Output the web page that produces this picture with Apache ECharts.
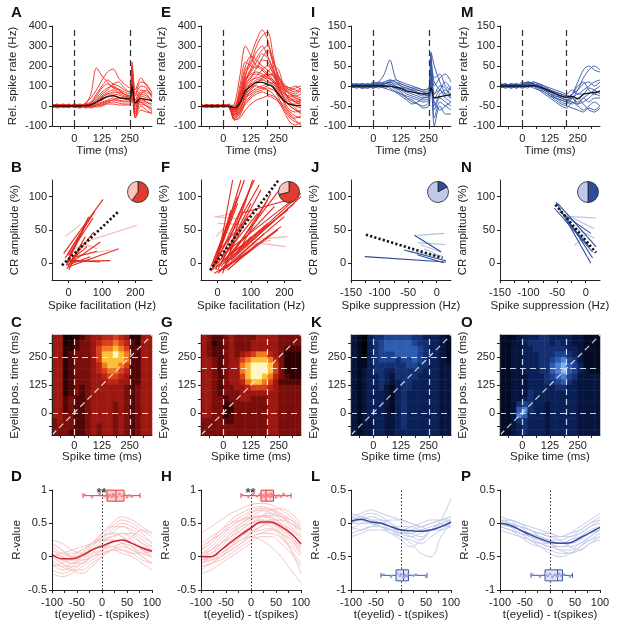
<!DOCTYPE html>
<html>
<head>
<meta charset="UTF-8">
<title>Spike rate, CR amplitude and eyelid correlation</title>
<script src="https://cdn.jsdelivr.net/npm/echarts@6/dist/echarts.min.js"></script>
<style>html,body{margin:0;padding:0;background:#fff;}</style>
</head>
<body>
<div id="main" style="width:617px;height:626px;"></div>
<script type="text/javascript">
// ---------- row 1: spike rate traces (A, E, I, M) ----------
var timeA = [-100,-75,-50,-25,0,25,50,75,100,125,150,175,200,225,250,260,275,300,325,350];
var timeE = [-100,-75,-50,-25,0,25,50,75,100,125,150,175,200,225,250,275,300,325,350];

var rateAMean = [0,0,0,0,0,0,2,6,20,35,48,52,42,38,35,100,15,38,32,28];
var rateATraces = [
  [5,-5,8,0,-3,5,10,60,190,150,120,90,80,60,40,150,20,60,50,30],
  [-5,5,0,-8,5,0,15,40,80,130,170,185,140,110,90,200,60,120,110,60],
  [10,0,-5,5,0,-5,10,20,60,100,130,110,100,80,70,180,50,100,90,40],
  [0,8,-3,-5,10,5,0,15,40,70,90,100,80,60,50,160,0,70,60,20],
  [-8,0,5,0,-5,-10,5,10,30,50,70,80,70,60,50,120,-20,50,40,20],
  [5,-10,0,8,0,5,0,5,20,40,60,60,55,45,40,90,-60,30,20,10],
  [0,5,-5,0,3,0,-5,0,15,30,45,50,45,35,30,130,-40,40,20,0],
  [-3,0,10,-5,0,10,0,-5,10,20,30,40,30,25,25,80,10,20,10,-20],
  [8,-5,0,5,-8,0,5,0,5,15,25,30,25,20,20,60,-30,10,0,-30],
  [0,10,-8,0,5,-5,0,-10,0,5,15,20,15,10,10,40,-50,0,-20,-40],
  [-10,0,5,-5,0,5,-10,0,-5,0,10,10,5,5,5,70,30,20,0,-10],
  [5,0,-5,10,-5,0,5,10,30,60,80,110,120,90,70,220,80,140,100,70],
  [0,-5,5,0,8,-8,0,5,20,45,60,70,65,50,45,110,-10,60,80,50],
  [-5,5,0,-3,0,3,-5,-5,5,10,20,30,40,35,30,100,-60,-20,-30,-35],
  [3,-3,5,-5,0,0,5,15,50,90,110,95,85,70,60,140,30,80,70,55]
];

var rateEMean = [0,0,0,0,0,-2,-8,15,75,100,118,118,108,95,55,25,8,3,2];
var rateETraces = [
  [5,-5,0,5,0,5,-10,40,150,250,330,380,330,200,100,60,40,20,10],
  [0,5,-5,0,5,0,10,150,300,250,200,180,150,120,80,50,30,20,0],
  [-5,0,5,-5,0,-5,0,60,180,220,300,350,370,250,120,80,60,40,30],
  [5,0,-5,5,-5,10,-20,80,200,250,230,200,180,150,100,80,60,50,40],
  [0,-5,5,0,0,0,-40,20,120,180,220,260,240,180,120,100,90,80,70],
  [-5,5,0,-5,5,-5,-60,-20,60,120,150,180,200,170,140,110,90,100,80],
  [5,0,-5,0,0,5,-70,-50,30,80,110,140,160,150,100,60,40,20,30],
  [0,5,0,5,-5,0,-30,30,100,150,160,150,130,100,60,20,-20,-30,-20],
  [-5,0,5,0,5,-5,-50,0,80,100,120,130,120,110,70,10,-40,-60,-50],
  [5,-5,0,5,0,0,-20,10,50,70,90,100,110,90,40,-20,-60,-80,-90],
  [0,0,-5,-5,5,5,-10,20,60,90,100,90,80,60,20,-30,-80,-95,-80],
  [-5,5,5,0,-5,0,-40,-30,20,50,70,80,90,80,60,30,0,-20,-40],
  [0,-5,0,5,0,-5,-60,-40,10,40,60,70,60,50,30,0,-30,-50,-60],
  [5,0,5,-5,0,5,-20,40,120,170,200,190,160,130,90,60,50,40,30],
  [0,5,-5,0,5,0,-10,60,140,160,170,160,140,120,80,40,20,0,-10],
  [-5,-5,0,5,-5,5,-50,-10,40,60,80,90,100,120,110,90,70,60,80],
  [5,0,0,-5,0,0,-30,10,90,130,140,150,170,200,180,80,20,-10,-40],
  [0,5,-5,5,0,-5,-70,-60,-20,10,30,40,50,40,20,-10,-50,-70,-100],
  [0,-5,5,0,0,5,0,100,220,200,190,240,280,220,150,100,80,90,100],
  [5,0,-5,0,5,0,-30,50,160,210,270,300,250,180,90,30,0,-20,-30],
  [0,0,5,-5,0,0,-45,15,110,140,190,230,220,160,110,70,40,30,20],
  [-5,5,0,0,5,-5,-25,35,130,190,240,280,300,230,140,90,60,50,60],
  [5,-5,0,5,-5,0,-65,-30,50,90,120,130,140,130,90,40,10,10,20],
  [0,0,-5,0,0,5,-15,25,90,110,130,140,150,160,130,100,80,70,90]
];

var rateIMean = [0,0,0,0,0,0,0,-1,-3,-6,-12,-15,-18,-20,-18,-5,-30,-27,-24,-22];
var rateITraces = [
  [5,0,-5,5,0,10,30,65,20,5,0,-5,-10,-15,-20,80,-20,-10,-30,-40],
  [0,5,5,-5,5,0,5,10,0,-10,-20,-25,-30,-35,-30,85,50,10,-20,-30],
  [-5,0,5,0,10,5,0,5,-5,-15,-30,-40,-45,-50,-40,40,-60,-30,-40,-50],
  [5,-5,0,5,0,0,10,15,10,0,-5,-10,-15,-20,-25,30,-100,-50,-70,-70],
  [0,5,-5,0,5,5,0,0,-10,-20,-25,-30,-35,-40,-35,20,-80,-40,-50,-60],
  [10,0,5,0,-5,0,5,10,5,0,-10,-10,-20,-25,-20,60,20,30,0,-10],
  [-5,5,0,5,0,-5,0,-5,-15,-25,-35,-45,-40,-30,-25,10,-30,-10,10,-10],
  [5,0,-5,-5,5,10,5,10,15,10,5,0,-5,-10,-5,50,0,20,30,10],
  [0,-5,5,0,-5,0,-5,0,-5,-10,-15,-20,-25,-30,-25,70,-50,-20,-10,-20],
  [5,5,0,-5,0,5,10,5,0,-5,-5,-10,-10,-15,-10,40,10,-10,-20,0],
  [-5,0,5,5,5,0,-5,-10,-15,-20,-30,-35,-45,-55,-50,0,-40,-60,-50,-40],
  [0,5,-5,0,-5,5,5,15,10,5,0,-5,-5,-10,-5,20,-20,0,-5,-30]
];

var rateMMean = [0,0,0,0,0,0,1,-2,-7,-13,-19,-25,-28,-26,-32,-21,-18,-16,-14];
var rateMTraces = [
  [5,0,-5,5,0,10,5,0,-10,-20,-30,-40,-45,-30,-10,20,40,50,40],
  [0,5,0,-5,5,0,10,5,-5,-15,-20,-30,-35,-20,10,40,50,40,35],
  [-5,0,5,0,10,5,0,-10,-20,-30,-40,-50,-55,-40,-50,-60,-50,-40,-50],
  [5,5,-5,0,0,10,5,0,-5,-20,-30,-35,-40,-30,-40,-30,-20,-10,0],
  [0,-5,5,5,-5,0,0,-5,-15,-25,-35,-45,-50,-55,-60,-65,-55,-60,-50],
  [5,0,0,-5,5,5,10,5,0,-5,-10,-15,-20,-10,-20,-10,0,10,15],
  [-5,5,0,0,0,-5,5,0,-10,-15,-25,-30,-35,-40,-45,-30,-40,-30,-30],
  [0,0,5,-5,5,5,0,5,0,-10,-15,-20,-25,-20,0,10,-10,-20,-10],
  [5,-5,0,5,0,0,-5,-10,-15,-25,-30,-35,-40,-45,-30,-45,-60,-65,-55],
  [0,5,-5,0,5,10,5,0,-5,-10,-20,-25,-30,-20,-10,5,10,0,10],
  [-5,0,5,0,-5,0,0,-5,-10,-20,-25,-30,-35,-30,-45,-40,-30,-20,-25],
  [5,0,0,5,0,5,5,0,-5,-10,-15,-20,-25,-30,-20,-20,-5,-10,-20]
];

// ---------- row 2: CR amplitude vs spike modulation, segments [x1, y1, x2, y2] ----------
var facBDark = [
  [-15,15,103,96],[-10,8,78,78],[-5,2,60,70],[0,12,73,68],[-5,-8,50,40],[-7,-3,55,62],
  [5,2,75,47],[-5,-3,95,32],[0,-5,150,22],[5,3,125,4],[-5,5,95,2],[-5,0,55,25],
  [0,-10,40,30],[-5,12,35,45],[10,8,85,18],[0,-2,65,10]
];
var facBLight = [[-10,40,35,58],[55,33,205,57],[25,12,125,20],[40,30,85,22],[10,22,65,27]];
var facBFit = [-20,-3,150,78];
var facBPie = [60,40];

var facFDark = [
  [-15,-10,80,125],[-10,-5,110,125],[-20,-12,60,100],[-5,0,70,125],[0,-10,100,90],[-10,-5,40,80],
  [10,0,130,110],[20,-5,150,95],[0,-15,200,70],[-10,-8,150,60],[5,-12,100,40],[20,0,240,100],
  [30,10,210,80],[-5,5,60,90],[15,-10,190,55],[-20,-5,30,60],[0,0,120,75],[40,5,250,100],
  [30,-10,120,30],[50,0,180,50],[-10,-15,90,15],[10,-5,200,120],[60,15,160,105],[25,5,90,70],
  [-15,0,20,45],[35,20,105,125],[0,-5,170,85],[45,10,230,90],[15,-15,50,35],[5,20,110,80],
  [70,75,245,100],[20,15,250,105],[-5,-10,45,125],[10,5,95,110],[25,-8,140,45],[-12,-2,125,118]
];
var facFLight = [
  [-3,70,46,75],[-10,70,100,65],[0,60,80,58],[95,35,209,40],[95,32,205,25],[50,20,160,35],
  [10,50,60,40],[-5,40,40,65],[30,20,95,30]
];
var facFFit = [-23,-10,183,125];
var facFPie = [71,29];

var supJDark = [[-126,10,16,2],[-39,42,8,17],[-57,20,16,4],[-34,13,12,1]];
var supJLight = [[-33,42,13,45],[-33,31,15,28],[-51,18,12,10],[-22,22,10,10],[-28,28,7,17]];
var supJFit = [-124,43,10,8];
var supJPie = [17,83];

var supNDark = [[-52,92,9,0],[-49,90,18,25],[-55,83,12,17],[-46,78,9,45],[-37,73,12,8],[-32,63,6,25]];
var supNLight = [[-26,70,18,68],[-32,72,15,52],[-20,27,3,45],[-29,57,15,38]];
var supNFit = [-53,88,18,16];
var supNPie = [50,50];

// ---------- row 3: spike time x eyelid time correlation maps (0-9), top row = 325..350 ms ----------
var heatBins = [-100,-75,-50,-25,0,25,50,75,100,125,150,175,200,225,250,275,300,325];
var mapC = [
  '440012344556541144','440123345667652144','441123346778762244','441233346889872244',
  '441233346888872244','441233345788762244','441233345677652244','441233344566542244',
  '441233344455442244','441232344444432344','441232344444432344','442322344444432344',
  '442322344443432344','442322344443432344','443322344443432344','343322344443432344',
  '333322343443432344','333222343443432344'
];
var mapG = [
  '432234333344443333','431234333444443333','432234333444443222','432234345677543111',
  '443234467888753111','443234478999863111','443234478999863111','443234468998753211',
  '443234457887642222','443233445666543333','443233344444443333','443323344333443333',
  '443312333333443333','443311333333443333','443312333333443333','333322333333443333',
  '333333333333443333','333333333333443333'
];
var mapK = [
  '210344555554433321','210345666665443321','210345666666543321','210345556666543321',
  '211345554556543321','211344444455443322','212344334444433322','212334324444333322',
  '212334323443333322','212334213443333322','212333213433333322','212333213433333322',
  '212333213433333322','212333213433333322','212333223433333322','212233223433333322',
  '212233223433333322','212233223333333322'
];
var mapO = [
  '111233344333322111','112234444343322111','112233444444332111','112233344455432111',
  '112233344567542111','112233344678653111','112233344678653211','112223334567542222',
  '112223334456432222','112223333344332222','112224333333332222','112234333333332222',
  '112454332333332222','112674332333332222','112763332333332222','112443332333332222',
  '112343332333332222','112343332333332222'
];

// ---------- row 4: R-value vs lag ----------
var lagX = [-100,-80,-60,-40,-20,0,20,40,60,80,100];
var rDMean = [0.03,-0.03,-0.03,0.02,0.1,0.16,0.22,0.25,0.2,0.13,0.08];
var rDTraces = [
  [0.25,0.2,0.1,0.05,0.15,0.3,0.45,0.55,0.5,0.4,0.3],
  [0.1,0,-0.1,-0.05,0.1,0.25,0.4,0.5,0.45,0.35,0.2],
  [-0.1,-0.2,-0.15,0,0.15,0.3,0.35,0.3,0.2,0.1,0],
  [0.05,-0.05,-0.1,-0.1,0,0.1,0.2,0.25,0.2,0.15,0.1],
  [0.2,0.1,0,0.05,0.2,0.35,0.5,0.6,0.55,0.45,0.35],
  [-0.2,-0.25,-0.2,-0.1,0,0.05,0.1,0.15,0.1,0,-0.1],
  [0,-0.1,-0.15,-0.1,0.05,0.2,0.3,0.35,0.25,0.1,0.05],
  [0.15,0.05,0,0,0.05,0.1,0.15,0.2,0.3,0.4,0.35],
  [-0.05,-0.15,-0.2,-0.2,-0.1,0,0.1,0.1,0.05,-0.05,-0.1],
  [0.1,0.05,0.05,0.1,0.2,0.3,0.35,0.3,0.15,0,-0.1],
  [-0.15,-0.1,0,0.1,0.2,0.25,0.3,0.35,0.3,0.2,0.15],
  [0.05,0,-0.05,0,0.1,0.2,0.35,0.45,0.4,0.3,0.2],
  [-0.25,-0.3,-0.25,-0.15,-0.05,0.05,0.1,0.05,0,-0.1,-0.2],
  [0,0.05,0.1,0.15,0.2,0.25,0.25,0.2,0.1,0.05,0],
  [0.2,0.1,0,-0.05,0,0.1,0.25,0.35,0.35,0.25,0.15],
  [-0.1,-0.15,-0.1,0,0.1,0.15,0.15,0.1,0.05,0.05,0.1],
  [0.05,-0.05,-0.05,0.05,0.2,0.35,0.45,0.45,0.35,0.2,0.1],
  [0,-0.1,-0.2,-0.25,-0.15,0,0.1,0.2,0.15,0.05,0]
];
var rHMean = [0,0,0.1,0.22,0.33,0.43,0.52,0.52,0.45,0.35,0.19];
var rHTraces = [
  [0.35,0.45,0.55,0.65,0.72,0.78,0.8,0.78,0.7,0.6,0.45],
  [0.1,0.25,0.4,0.55,0.65,0.72,0.75,0.7,0.6,0.45,0.3],
  [0,0.05,0.2,0.35,0.5,0.6,0.68,0.7,0.62,0.5,0.35],
  [-0.1,0,0.1,0.25,0.4,0.5,0.6,0.65,0.6,0.5,0.4],
  [0,0.1,0.25,0.4,0.5,0.58,0.62,0.6,0.5,0.35,0.2],
  [-0.2,-0.1,0,0.15,0.3,0.42,0.5,0.5,0.42,0.3,0.15],
  [0.05,0.1,0.2,0.3,0.4,0.5,0.55,0.52,0.4,0.25,0.05],
  [-0.05,-0.05,0.05,0.15,0.25,0.35,0.4,0.42,0.35,0.2,0.05],
  [0.1,0.2,0.35,0.45,0.55,0.6,0.6,0.55,0.45,0.3,0.15],
  [-0.15,-0.1,-0.05,0.05,0.15,0.25,0.35,0.35,0.28,0.15,0],
  [0,0,0.1,0.2,0.3,0.45,0.6,0.7,0.72,0.65,0.5],
  [-0.1,-0.05,0.05,0.2,0.35,0.45,0.5,0.45,0.3,0.1,-0.1],
  [0.2,0.3,0.4,0.5,0.55,0.58,0.6,0.62,0.6,0.55,0.45],
  [-0.25,-0.2,-0.1,0,0.1,0.2,0.3,0.3,0.2,0.05,-0.15],
  [0.05,0.15,0.3,0.45,0.55,0.65,0.7,0.65,0.55,0.4,0.25],
  [-0.05,0,0.1,0.2,0.3,0.38,0.45,0.5,0.48,0.4,0.3],
  [0,0.05,0.15,0.3,0.45,0.55,0.6,0.58,0.48,0.3,0.1],
  [-0.1,-0.05,0,0.1,0.2,0.3,0.35,0.4,0.35,0.25,0.1],
  [0.15,0.25,0.35,0.5,0.6,0.68,0.72,0.72,0.65,0.55,0.4],
  [-0.05,0,0.05,0.15,0.25,0.3,0.25,0.15,0,-0.2,-0.4],
  [0,0.1,0.2,0.35,0.45,0.5,0.55,0.5,0.35,0.1,-0.25],
  [-0.15,-0.1,0,0.1,0.2,0.35,0.45,0.55,0.55,0.5,0.42]
];
var rLMean = [0.03,0.06,0.02,0,-0.05,-0.1,-0.11,-0.12,-0.1,-0.05,0.02];
var rLTraces = [
  [0.1,0.15,0.2,0.15,0.1,0.05,0,-0.05,0,0.05,0.1],
  [0,0.1,0.15,0.1,0,-0.1,-0.2,-0.25,-0.1,0,0.05],
  [-0.2,-0.15,-0.1,-0.1,-0.15,-0.2,-0.3,-0.45,-0.5,-0.2,0],
  [0.05,0.05,0,-0.05,-0.1,-0.15,-0.15,-0.1,-0.05,0,0.05],
  [-0.1,0,0.05,0.05,0,-0.1,-0.15,-0.2,-0.1,0.05,0.38],
  [0.1,0.05,0,-0.05,-0.1,-0.1,-0.05,0,0.05,0.05,0.05],
  [-0.05,-0.1,-0.05,0,0.05,0.05,0,-0.05,-0.1,-0.05,-0.05],
  [0,0.05,0.1,0.05,-0.05,-0.15,-0.2,-0.15,-0.1,-0.1,-0.05],
  [0.15,0.1,0.05,0,-0.1,-0.2,-0.25,-0.3,-0.2,-0.1,0],
  [-0.15,-0.1,-0.05,-0.05,-0.1,-0.15,-0.1,-0.05,0,0.05,0.1],
  [0.05,0.1,0.05,-0.05,-0.15,-0.25,-0.35,-0.25,-0.1,-0.02,-0.05],
  [0,0,0,0,-0.05,-0.05,-0.05,-0.1,-0.1,-0.05,0]
];
var rPMean = [0,-0.03,-0.1,-0.17,-0.23,-0.28,-0.3,-0.29,-0.22,-0.14,-0.06];
var rPTraces = [
  [0,-0.05,-0.15,-0.25,-0.3,-0.35,-0.4,-0.45,-0.4,-0.3,-0.25],
  [0.05,0,-0.05,-0.1,-0.15,-0.2,-0.2,-0.15,-0.05,0.05,0.15],
  [-0.05,-0.1,-0.2,-0.3,-0.35,-0.4,-0.45,-0.45,-0.35,-0.25,-0.15],
  [0.05,0.05,0,-0.05,-0.1,-0.15,-0.2,-0.2,-0.1,0,0.1],
  [0,-0.05,-0.1,-0.2,-0.3,-0.35,-0.35,-0.3,-0.2,-0.1,-0.05],
  [0.1,0.05,-0.05,-0.15,-0.2,-0.25,-0.3,-0.3,-0.25,-0.15,-0.1],
  [-0.05,-0.1,-0.15,-0.25,-0.35,-0.45,-0.5,-0.45,-0.35,-0.2,-0.1],
  [0,0,-0.1,-0.15,-0.2,-0.25,-0.25,-0.2,-0.15,-0.05,0.05],
  [0.05,0,-0.05,-0.1,-0.2,-0.3,-0.4,-0.4,-0.3,-0.2,-0.1],
  [-0.1,-0.15,-0.2,-0.25,-0.3,-0.3,-0.3,-0.25,-0.2,-0.15,-0.1],
  [0,0.05,0,-0.1,-0.15,-0.2,-0.25,-0.35,-0.4,-0.3,-0.2],
  [0.05,0,-0.1,-0.2,-0.25,-0.3,-0.3,-0.25,-0.15,-0.05,0],
  [-0.05,-0.1,-0.15,-0.2,-0.25,-0.3,-0.35,-0.35,-0.3,-0.25,-0.2],
  [0,-0.05,-0.05,-0.1,-0.15,-0.15,-0.2,-0.15,-0.1,0,0.05]
];
// peak lag box stats [min, q1, median, q3, max], row position, individual peak lags
var boxD = [-38,10,28,44,76], boxDY = 0.915;
var boxH = [-20,20,30,45,80], boxHY = 0.915;
var boxL = [-40,-10,5,15,52], boxLY = -0.78;
var boxP = [-38,-10,15,25,45], boxPY = -0.78;
var dotsD = [-35,-20,-5,5,10,12,15,20,22,25,28,30,35,40,45,50,55,60];
var dotsH = [-18,-5,5,12,18,22,25,28,30,33,35,38,40,42,45,50,55,60,65,72];
var dotsL = [-35,-20,-8,-2,0,5,8,12,15,25,30,50];
var dotsP = [-35,-20,-10,-5,0,5,10,15,18,22,28,40];

// ---------- chart ----------
var myChart = echarts.init(document.getElementById('main'));
var FONT = 'Liberation Sans, Arial, sans-serif';
var INK = '#222';
var lefts = [52, 201, 351, 500], tops = [26, 180, 335, 490];
var grids = [], xAxes = [], yAxes = [], series = [], visualMaps = [], graphics = [];

var ticksTime = [-62.5,0,62.5,125,187.5,250,312.5], labelsTime = [0,125,250];
var ticksRate = [-100,0,100,200,300,400], ticksRateSmall = [-100,-50,0,50,100,150];
var ticksFac = [0,50,100,150,200], labelsFac = [0,100,200];
var ticksSup = [-150,-125,-100,-75,-50,-25,0], labelsSup = [-150,-100,-50,0];
var ticksCR = [0,50,100];
var ticksLag = [-100,-75,-50,-25,0,25,50,75,100], labelsLag = [-100,-50,0,50,100];
var ticksRPos = [-0.5,0,0.5,1], ticksRNeg = [-1,-0.5,0,0.5];

function axis(g, min, max, ticks, labels, name, gap, margin) {
  return {
    type: 'value', gridIndex: g, min: min, max: max, scale: true,
    name: name, nameLocation: 'middle', nameGap: gap, nameMoveOverlap: false,
    nameTextStyle: {fontFamily: FONT, fontSize: 11.5, color: INK},
    axisLine: {show: true, onZero: false, lineStyle: {color: INK, width: 1}},
    axisTick: {show: true, length: 3, customValues: ticks, lineStyle: {color: INK, width: 1}},
    axisLabel: {customValues: labels, fontFamily: FONT, fontSize: 11, color: INK, margin: margin},
    splitLine: {show: false}, z: 6
  };
}
function zip(xs, ys) { return xs.map(function (x, i) { return [x, ys[i]]; }); }
function lineS(g, data, color, width, z, smooth, dash) {
  return {type: 'line', xAxisIndex: g, yAxisIndex: g, data: data, smooth: smooth || false,
    symbol: 'none', silent: true, animation: false, z: z,
    lineStyle: {color: color, width: width, type: dash || 'solid'}};
}
function eventLines(vals, color, dash) {
  return {symbol: ['none', 'none'], silent: true, animation: false, label: {show: false},
    emphasis: {disabled: true}, lineStyle: {color: color, type: dash, width: 1.2}, data: vals};
}

// grids and axes
var panelSpec = [
  [[-100,400,ticksRate], [-100,400,ticksRate], [-100,150,ticksRateSmall], [-100,150,ticksRateSmall]],
  [[-50,250], [-50,250], [-150,25], [-150,25]],
  [0,0,0,0],
  [[-0.5,1,ticksRPos], [-0.5,1,ticksRPos], [-1,0.5,ticksRNeg], [-1,0.5,ticksRNeg]]
];
for (var r = 0; r < 4; r++) {
  for (var c = 0; c < 4; c++) {
    var g = r * 4 + c;
    grids.push({left: lefts[c], top: tops[r], width: 100, height: 100, outerBoundsMode: 'none'});
    if (r === 0) {
      var sp = panelSpec[0][c];
      xAxes.push(axis(g, -100, 350, ticksTime, labelsTime, 'Time (ms)', 19, 7));
      yAxes.push(axis(g, sp[0], sp[1], sp[2], sp[2], 'Rel. spike rate (Hz)', c < 2 ? 33 : 30, 5));
    } else if (r === 1) {
      if (c < 2) xAxes.push(axis(g, -50, 250, ticksFac, labelsFac, 'Spike facilitation (Hz)', 20, 7));
      else xAxes.push(axis(g, -150, 25, ticksSup, labelsSup, 'Spike suppression (Hz)', 20, 7));
      yAxes.push(axis(g, -25, 125, ticksCR, ticksCR, 'CR amplitude (%)', 31, 5));
    } else if (r === 2) {
      xAxes.push(axis(g, -100, 350, ticksTime, labelsTime, 'Spike time (ms)', 16, 5));
      yAxes.push(axis(g, -100, 350, ticksTime, labelsTime, 'Eyelid pos. time (ms)', 31, 5));
    } else {
      var sq = panelSpec[3][c];
      xAxes.push(axis(g, -100, 100, ticksLag, labelsLag, 't(eyelid) - t(spikes)', 19, 7));
      yAxes.push(axis(g, sq[0], sq[1], sq[2], sq[2], 'R-value', 29, 5));
    }
  }
}
// hidden category grids carrying the correlation maps (16..19)
for (var k = 0; k < 4; k++) {
  grids.push({left: lefts[k], top: tops[2], width: 100, height: 100, outerBoundsMode: 'none'});
  xAxes.push({type: 'category', gridIndex: 16 + k, data: heatBins, show: false});
  yAxes.push({type: 'category', gridIndex: 16 + k, data: heatBins, show: false});
}

// row 1 traces
var row1 = [
  {t: timeA, tr: rateATraces, mean: rateAMean, col: '#ee2a1f', us: 250},
  {t: timeE, tr: rateETraces, mean: rateEMean, col: '#ee2a1f', us: 200},
  {t: timeA, tr: rateITraces, mean: rateIMean, col: '#3556a8', us: 250},
  {t: timeE, tr: rateMTraces, mean: rateMMean, col: '#3556a8', us: 200}
];
row1.forEach(function (p, c) {
  p.tr.forEach(function (tr) { series.push(lineS(c, zip(p.t, tr), p.col, 0.9, 2, 0.3)); });
  var m = lineS(c, zip(p.t, p.mean), '#151515', 1.4, 4, 0.3);
  m.markLine = eventLines([{xAxis: 0}, {xAxis: p.us}], '#333', [6, 4]);
  series.push(m);
});

// row 2 segments and pies
var row2 = [
  {dark: facBDark, light: facBLight, fit: facBFit, pie: facBPie, dc: '#e3261d', lc: '#f6b4ab', pd: '#e53a2e', pl: '#f8c6bd', cx: 138},
  {dark: facFDark, light: facFLight, fit: facFFit, pie: facFPie, dc: '#e3261d', lc: '#f6b4ab', pd: '#e53a2e', pl: '#f8c6bd', cx: 289},
  {dark: supJDark, light: supJLight, fit: supJFit, pie: supJPie, dc: '#2b4c9e', lc: '#b5c0e4', pd: '#2c4da0', pl: '#c0c9ea', cx: 438},
  {dark: supNDark, light: supNLight, fit: supNFit, pie: supNPie, dc: '#2b4c9e', lc: '#b5c0e4', pd: '#2c4da0', pl: '#c0c9ea', cx: 588}
];
row2.forEach(function (p, c) {
  var g = 4 + c;
  p.light.forEach(function (s) { series.push(lineS(g, [[s[0], s[1]], [s[2], s[3]]], p.lc, 1.1, 2)); });
  p.dark.forEach(function (s) { series.push(lineS(g, [[s[0], s[1]], [s[2], s[3]]], p.dc, 1.1, 3)); });
  var f = p.fit;
  series.push(lineS(g, [[f[0], f[1]], [f[2], f[3]]], '#111', 2.6, 4, false, [2.2, 2.2]));
  series.push({type: 'pie', center: [p.cx, 192], radius: 10.5, silent: true, animation: false, z: 6,
    label: {show: false}, labelLine: {show: false}, startAngle: 90, clockwise: true,
    itemStyle: {borderColor: '#222', borderWidth: 0.8},
    data: [{value: p.pie[0], itemStyle: {color: p.pd}}, {value: p.pie[1], itemStyle: {color: p.pl}}]});
});

// row 3 correlation maps
var redScale = ['#120000','#2e0202','#520606','#7a0e0a','#9c1810','#ba2414','#d8401a','#f07a20','#fcc038','#fff6c0'];
var blueScale = ['#000008','#020a24','#06143e','#0c2058','#143070','#1e4490','#2e5cb0','#4c80d0','#80b4ec','#d0ecff'];
function cells(rows) {
  var out = [];
  for (var i = 0; i < rows.length; i++)
    for (var j = 0; j < rows[i].length; j++)
      out.push([j, rows.length - 1 - i, +rows[i].charAt(j)]);
  return out;
}
var row3 = [
  {map: mapC, scale: redScale, us: 250, lc: 'rgba(255,236,236,0.9)'},
  {map: mapG, scale: redScale, us: 200, lc: 'rgba(255,236,236,0.9)'},
  {map: mapK, scale: blueScale, us: 250, lc: 'rgba(225,235,255,0.9)'},
  {map: mapO, scale: blueScale, us: 200, lc: 'rgba(225,235,255,0.9)'}
];
row3.forEach(function (p, c) {
  visualMaps.push({type: 'continuous', show: false, min: 0, max: 9, seriesIndex: series.length,
    inRange: {color: p.scale}});
  series.push({type: 'heatmap', xAxisIndex: 16 + c, yAxisIndex: 16 + c, data: cells(p.map),
    silent: true, animation: false, progressive: 0, z: 1, itemStyle: {borderWidth: 0}});
  var d = lineS(8 + c, [[-100, -100], [350, 350]], p.lc, 1.2, 3, false, [6, 4]);
  d.markLine = eventLines([{xAxis: 0}, {xAxis: p.us}, {yAxis: 0}, {yAxis: p.us}], p.lc, [6, 4]);
  series.push(d);
});

// row 4 lag correlations with peak-lag boxes
var row4 = [
  {tr: rDTraces, mean: rDMean, box: boxD, y: boxDY, dots: dotsD, lc: '#f7c5c6', mc: '#cf2530', bc: '#e3363c', bf: '#fbd3d4', dc: '#ef7d85', star: true},
  {tr: rHTraces, mean: rHMean, box: boxH, y: boxHY, dots: dotsH, lc: '#f7c5c6', mc: '#cf2530', bc: '#e3363c', bf: '#fbd3d4', dc: '#ef7d85', star: true},
  {tr: rLTraces, mean: rLMean, box: boxL, y: boxLY, dots: dotsL, lc: '#c7cbe8', mc: '#2f4d9e', bc: '#3a5aa8', bf: '#dfe3f4', dc: '#8f9fd8', star: false},
  {tr: rPTraces, mean: rPMean, box: boxP, y: boxPY, dots: dotsP, lc: '#c7cbe8', mc: '#2f4d9e', bc: '#3a5aa8', bf: '#dfe3f4', dc: '#8f9fd8', star: false}
];
row4.forEach(function (p, c) {
  var g = 12 + c;
  p.tr.forEach(function (tr) { series.push(lineS(g, zip(lagX, tr), p.lc, 1, 2, 0.4)); });
  var m = lineS(g, zip(lagX, p.mean), p.mc, 1.5, 4, 0.4);
  m.markLine = eventLines([{xAxis: 0}], '#333', [1.5, 2]);
  m.markLine.lineStyle.width = 1;
  series.push(m);
  series.push({type: 'custom', xAxisIndex: g, yAxisIndex: g, silent: true, animation: false, z: 5,
    data: [[p.y].concat(p.box)],
    renderItem: function (params, api) {
      var y = api.value(0), pts = [];
      for (var i = 1; i <= 5; i++) pts.push(api.coord([api.value(i), y]));
      var cy = pts[0][1], h = 5.5, st = {stroke: p.bc, lineWidth: 1, fill: null};
      return {type: 'group', children: [
        {type: 'line', shape: {x1: pts[0][0], y1: cy, x2: pts[1][0], y2: cy}, style: st},
        {type: 'line', shape: {x1: pts[3][0], y1: cy, x2: pts[4][0], y2: cy}, style: st},
        {type: 'line', shape: {x1: pts[0][0], y1: cy - 2.5, x2: pts[0][0], y2: cy + 2.5}, style: st},
        {type: 'line', shape: {x1: pts[4][0], y1: cy - 2.5, x2: pts[4][0], y2: cy + 2.5}, style: st},
        {type: 'rect', shape: {x: pts[1][0], y: cy - h, width: pts[3][0] - pts[1][0], height: 2 * h},
          style: {stroke: p.bc, lineWidth: 1, fill: p.bf}},
        {type: 'line', shape: {x1: pts[2][0], y1: cy - h, x2: pts[2][0], y2: cy + h}, style: st}
      ]};
    }});
  var jit = [0.012, -0.02, 0.025, -0.008, 0.018, -0.025, 0.005, -0.015, 0.022, -0.003];
  series.push({type: 'scatter', xAxisIndex: g, yAxisIndex: g, silent: true, animation: false, z: 6,
    symbolSize: 2.8, itemStyle: {color: p.dc, opacity: 0.9},
    data: p.dots.map(function (x, i) { return [x, p.y + jit[i % jit.length]]; })});
  if (p.star) {
    series.push({type: 'scatter', xAxisIndex: g, yAxisIndex: g, silent: true, animation: false, z: 7,
      symbolSize: 0, itemStyle: {color: 'rgba(0,0,0,0)'}, data: [[-1, 0.955]],
      label: {show: true, position: 'inside', formatter: '**', fontFamily: FONT, fontSize: 13,
        fontWeight: 'bold', color: INK}});
  }
});

// panel letters
var letters = [['A','E','I','M'], ['B','F','J','N'], ['C','G','K','O'], ['D','H','L','P']];
var letterTop = [5, 160, 315, 469], letterLeft = [11, 161, 311, 461];
letters.forEach(function (row, r) {
  row.forEach(function (t, c) {
    graphics.push({type: 'text', left: letterLeft[c], top: letterTop[r], silent: true,
      style: {text: t, font: 'bold 15px Liberation Sans, Arial, sans-serif', fill: '#111'}});
  });
});

myChart.setOption({
  animation: false,
  backgroundColor: '#fff',
  grid: grids, xAxis: xAxes, yAxis: yAxes,
  visualMap: visualMaps,
  graphic: graphics,
  series: series
});
</script>
</body>
</html>
